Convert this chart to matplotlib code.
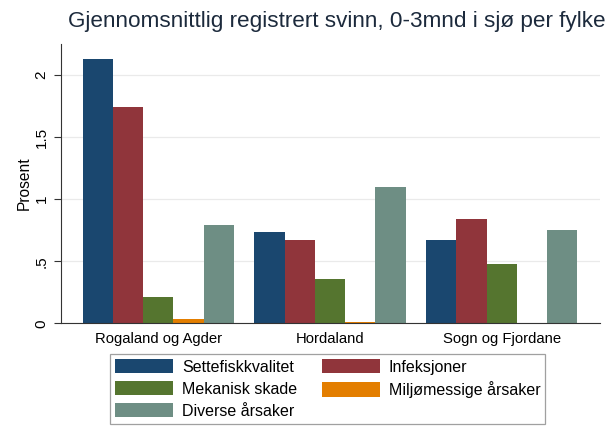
import matplotlib
matplotlib.use("Agg")
import matplotlib.pyplot as plt
import numpy as np
from matplotlib.patches import Patch

plt.rcParams['font.family'] = ['Liberation Sans', 'DejaVu Sans']

categories = ["Rogaland og Agder", "Hordaland", "Sogn og Fjordane"]
series_names = ["Settefiskkvalitet", "Infeksjoner", "Mekanisk skade",
                "Miljømessige årsaker", "Diverse årsaker"]
settefisk = [2.126, 0.738, 0.670]
infeksjoner = [1.742, 0.670, 0.840]
mekanisk = [0.212, 0.357, 0.477]
miljo = [0.037, 0.008, 0.0]
diverse = [0.790, 1.097, 0.751]
yticks = [0, 0.5, 1, 1.5, 2]
yticklabels = ["0", ".5", "1", "1.5", "2"]

colors = ["#1a476f", "#90353b", "#55752f", "#e37e00", "#6e8e84"]
series = [settefisk, infeksjoner, mekanisk, miljo, diverse]

W, H = 616, 447
fig = plt.figure(figsize=(W/100, H/100), dpi=100)
fig.patch.set_facecolor('white')
ax = fig.add_axes([61/W, 1-323.3/H, (600-61)/W, (323.3-44)/H])

x = np.arange(len(categories))
bw = 0.176
for i, (vals, c) in enumerate(zip(series, colors)):
    ax.bar(x + (i-2)*bw, vals, width=bw, color=c, linewidth=0)

ax.set_xlim(-0.566, 2.572)
ax.set_ylim(0, 2.249)
ax.set_yticks(yticks)
ax.set_yticklabels(yticklabels, rotation=90, va='center', fontsize=11)
ax.set_xticks(x)
ax.set_xticklabels(categories, fontsize=10.7)
ax.tick_params(axis='x', length=0, pad=6)
ax.tick_params(axis='y', length=5, width=0.8, color='#333333', pad=4)
ax.grid(axis='y', color='#eaeaea', linewidth=0.9)
ax.set_axisbelow(True)
for s in ['top', 'right']:
    ax.spines[s].set_visible(False)
for s in ['left', 'bottom']:
    ax.spines[s].set_color('#333333')
    ax.spines[s].set_linewidth(0.8)
ax.set_ylabel("Prosent", fontsize=11.2, labelpad=2)

fig.text(336.5/W, 1-22/H, "Gjennomsnittlig registrert svinn, 0-3mnd i sjø per fylke",
         ha='center', va='center', fontsize=16.2, color='#1c2a3c')

handles = [Patch(facecolor=c, edgecolor='none') for c in colors]
order = [0, 2, 4, 1, 3]
leg = fig.legend([handles[i] for i in order], [series_names[i] for i in order],
                 ncol=2, loc='upper left', bbox_to_anchor=(110/W, 1-354/H),
                 fontsize=11.5, frameon=True, fancybox=False,
                 handlelength=3.63, handleheight=1.0, handletextpad=0.55,
                 columnspacing=1.55, labelspacing=0.4, borderpad=0.32,
                 borderaxespad=0)
leg.get_frame().set_edgecolor('#888888')
leg.get_frame().set_linewidth(0.9)

fig.savefig("out.png", dpi=100)
